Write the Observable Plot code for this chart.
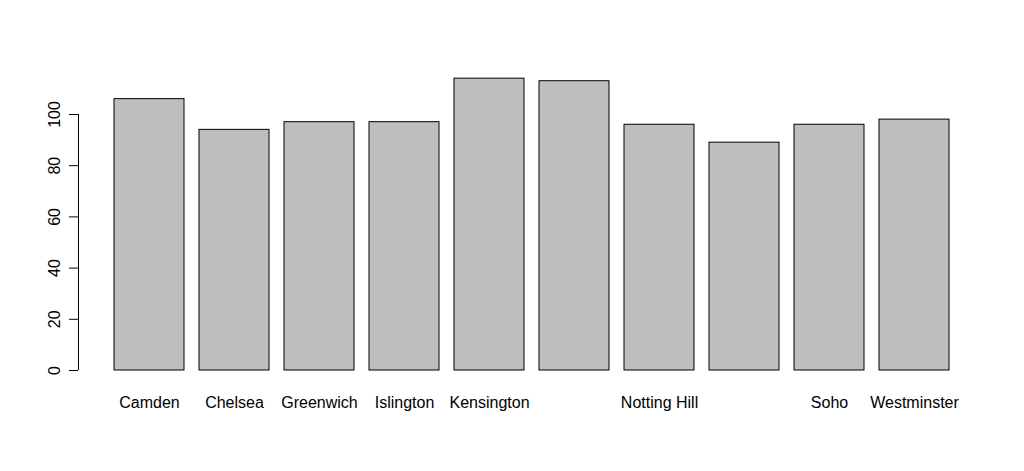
<!DOCTYPE html>
<html>
<head>
<meta charset="utf-8">
<script src="https://cdn.jsdelivr.net/npm/d3@7"></script>
<script src="https://cdn.jsdelivr.net/npm/@observablehq/plot@0.6"></script>
<style>
  html, body { margin: 0; padding: 0; background: #ffffff; }
  #chart svg { display: block; }
</style>
</head>
<body>
<div id="chart"></div>
<script>
// Categories (two labels are not drawn in the reference, as R dropped overlapping labels)
const areas = ["Camden", "Chelsea", "Greenwich", "Islington", "Kensington", "Knightsbridge", "Notting Hill", "Shepherd's Bush", "Soho", "Westminster"];
const values = [106, 94, 97, 97, 114, 113, 96, 89, 96, 98];
const shownLabels = ["Camden", "Chelsea", "Greenwich", "Islington", "Kensington", "", "Notting Hill", "", "Soho", "Westminster"];
const yTicks = [0, 20, 40, 60, 80, 100];

const data = areas.map((a, i) => ({area: a, value: values[i]}));

const W = 1024, H = 471, ML = 78, MR = 66;

const chart = Plot.plot({
  width: W,
  height: H,
  marginLeft: ML,
  marginRight: MR,
  marginTop: 0,
  marginBottom: 101,
  style: {fontFamily: "Arial, 'Liberation Sans', sans-serif", fontSize: "16px", color: "#000", background: "#fff"},
  x: {domain: areas, range: [104.5, 958.5], paddingInner: 0.176, paddingOuter: 0.088, axis: null},
  y: {domain: [0, 100], range: [370, 114], axis: null},
  marks: [
    Plot.barY(data, {x: "area", y: "value", fill: "#bebebe", stroke: "#000", strokeWidth: 1}),
    Plot.axisX({tickSize: 0, tickPadding: 26, fontSize: 16, tickFormat: (d) => shownLabels[areas.indexOf(d)], label: null}),
    Plot.axisY(yTicks, {tickSize: 9, tickPadding: 10, tickRotate: -90, fontSize: 16, label: null, stroke: "#000", fill: "#000"}),
    Plot.ruleX([0], {x: null, y1: 0, y2: 100, stroke: "#000", dx: ML - (ML + W - MR) / 2})
  ]
});
document.getElementById("chart").appendChild(chart);
</script>
</body>
</html>
